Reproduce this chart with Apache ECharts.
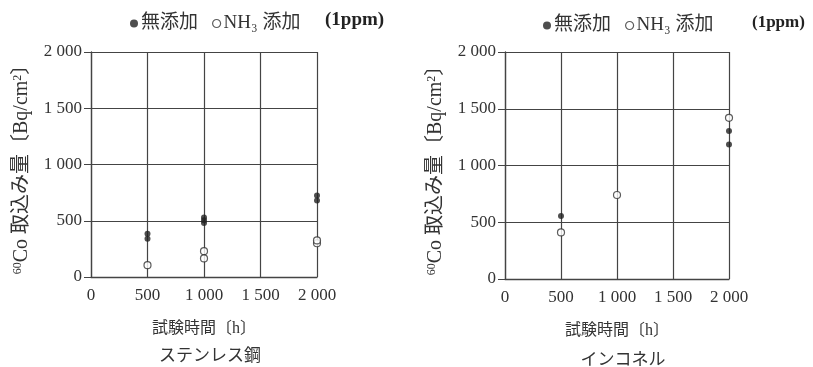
<!DOCTYPE html>
<html><head><meta charset="utf-8">
<script src="https://cdn.jsdelivr.net/npm/echarts@6/dist/echarts.min.js"></script>
<style>html,body{margin:0;padding:0;background:#fff}#c{width:813px;height:367px}</style>
</head><body><div id="c"></div>
<script>
// Stainless steel (ステンレス鋼)
const ssNoneX = [500, 500, 1000, 1000, 1000, 2000, 2000];
const ssNoneY = [385, 340, 530, 505, 480, 725, 680];
const ssNH3X = [500, 1000, 1000, 2000, 2000];
const ssNH3Y = [105, 230, 165, 300, 325];
// Inconel (インコネル)
const inNoneX = [500, 2000, 2000];
const inNoneY = [555, 1305, 1185];
const inNH3X = [500, 1000, 2000];
const inNH3Y = [410, 740, 1420];
const tickVals = [0, 500, 1000, 1500, 2000];
const xTicks = ['0', '500', '1 000', '1 500', '2 000'];
const yTicks = ['0', '500', '1 000', '1 500', '2 000'];
const nameNone = '無添加';
const nameNH3 = 'NH₃ 添加';

const pair = (xs, ys) => xs.map((x, i) => [x, ys[i]]);
const fmt = v => { const i = tickVals.indexOf(v); return i >= 0 ? xTicks[i] : ''; };
const fmtY = v => { const i = tickVals.indexOf(v); return i >= 0 ? yTicks[i] : ''; };
const ink = '#333';
const serif = '"Liberation Serif", "DejaVu Serif", "Noto Sans CJK JP", serif';
const jp = '"Liberation Serif", "Noto Sans CJK JP", sans-serif';

function xAxis(gi) {
  return {
    type: 'value', gridIndex: gi, min: 0, max: 2000, interval: 500,
    axisLine: { show: true, lineStyle: { color: '#444', width: 1.3 } },
    axisTick: { show: false },
    axisLabel: { formatter: fmt, color: ink, fontFamily: serif, fontSize: 17, margin: 10 },
    splitLine: { show: true, lineStyle: { color: '#444', width: 1.2 } },
    name: '試験時間〔h〕', nameLocation: 'middle', nameGap: 44,
    nameTextStyle: { color: ink, fontFamily: jp, fontSize: 16 }
  };
}
function yAxis(gi) {
  return {
    type: 'value', gridIndex: gi, min: 0, max: 2000, interval: 500,
    axisLine: { show: true, lineStyle: { color: '#444', width: 1.3 } },
    axisTick: { show: true, length: 7, lineStyle: { color: '#444' } },
    axisLabel: { formatter: fmtY, color: ink, fontFamily: serif, fontSize: 17, margin: 9 },
    splitLine: { show: true, lineStyle: { color: '#444', width: 1.2 } },
    name: '{sup|60}Co 取込み量〔Bq/cm{sup|2}〕', nameLocation: 'middle', nameGap: 59, nameRotate: 90,
    nameTextStyle: { color: ink, fontFamily: jp, fontSize: 20,
      rich: { sup: { fontSize: 12, fontFamily: serif, color: ink, verticalAlign: 'top', padding: [0, 0, 8, 0] } } }
  };
}
const filled = { symbol: 'circle', symbolSize: 6, itemStyle: { color: '#222' } };
const open = { symbol: 'circle', symbolSize: 7, itemStyle: { color: '#fff', borderColor: '#333', borderWidth: 1.2 } };
const legendData = [
  { name: nameNone, icon: 'circle', itemStyle: { color: '#222' } },
  { name: nameNH3, icon: 'circle', itemStyle: { color: '#fff', borderColor: '#333', borderWidth: 1.2 } }
];
function legend(left, top) {
  return { left: left, top: top, itemWidth: 8, itemHeight: 8, itemGap: 14,
    textStyle: { color: ink, fontFamily: jp, fontSize: 19, padding: [0, 0, 0, -2] },
    data: legendData };
}

const chart = echarts.init(document.getElementById('c'), null, { renderer: 'canvas' });
chart.setOption({
  animation: false,
  backgroundColor: '#fff',
  grid: [
    { left: 91, top: 52, width: 226, height: 225 },
    { left: 505, top: 52, width: 224, height: 227 }
  ],
  xAxis: [xAxis(0), xAxis(1)],
  yAxis: [yAxis(0), yAxis(1)],
  legend: [legend(125, 9), legend(538, 11)],
  title: [
    { text: 'ステンレス鋼', left: 205, top: 343, textAlign: 'center',
      textStyle: { color: ink, fontFamily: jp, fontSize: 17, fontWeight: 'normal' } },
    { text: 'インコネル', left: 618, top: 347, textAlign: 'center',
      textStyle: { color: ink, fontFamily: jp, fontSize: 17, fontWeight: 'normal' } }
  ],
  graphic: [
    { type: 'text', left: 325, top: 11, style: { text: '(1ppm)', fill: '#222', font: 'bold 19px ' + serif } },
    { type: 'text', left: 752, top: 14, style: { text: '(1ppm)', fill: '#222', font: 'bold 17px ' + serif } }
  ],
  series: [
    Object.assign({ type: 'scatter', name: nameNone, xAxisIndex: 0, yAxisIndex: 0, data: pair(ssNoneX, ssNoneY) }, filled),
    Object.assign({ type: 'scatter', name: nameNH3, xAxisIndex: 0, yAxisIndex: 0, data: pair(ssNH3X, ssNH3Y) }, open),
    Object.assign({ type: 'scatter', name: nameNone, xAxisIndex: 1, yAxisIndex: 1, data: pair(inNoneX, inNoneY) }, filled),
    Object.assign({ type: 'scatter', name: nameNH3, xAxisIndex: 1, yAxisIndex: 1, data: pair(inNH3X, inNH3Y) }, open)
  ]
});
</script></body></html>
